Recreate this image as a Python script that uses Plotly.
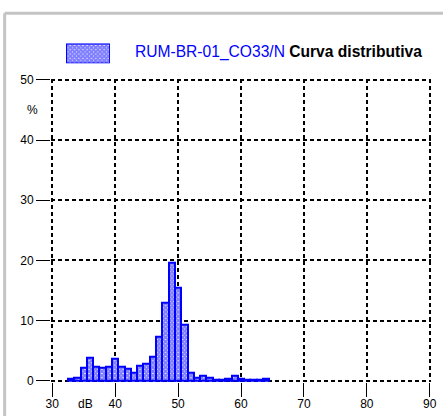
import plotly.graph_objects as go

# Data
db_levels = [33, 34, 35, 36, 37, 38, 39, 40, 41, 42, 43, 44, 45, 46, 47, 48,
             49, 50, 51, 52, 53, 54, 55, 56, 57, 58, 59, 60, 61, 62, 63, 64]
percent = [0.3, 0.55, 2.2, 3.8, 2.4, 2.2, 2.4, 3.6, 2.4, 2.0, 1.3, 2.6, 2.9, 4.0, 7.4, 13.0,
           19.6, 15.4, 9.4, 1.3, 0.5, 0.8, 0.5, 0.15, 0.15, 0.3, 0.8, 0.35, 0.15, 0.15, 0.2, 0.3]
x_ticks = [30, 40, 50, 60, 70, 80, 90]
y_ticks = [0, 10, 20, 30, 40, 50]
series_name = "RUM-BR-01_CO33/N"
chart_title = "Curva distributiva"

BLUE = "#0000ff"
FONT = "Liberation Sans, Arial, sans-serif"
pattern = dict(shape="x", fgcolor=BLUE, bgcolor="white", size=3, solidity=0.9)

fig = go.Figure()
fig.add_trace(go.Bar(
    x=db_levels, y=percent, width=1,
    marker=dict(color=BLUE, line=dict(color=BLUE, width=2), pattern=pattern),
    showlegend=False, hoverinfo="x+y",
))
# legend swatch
fig.add_trace(go.Bar(
    x=[0], y=[1], width=1, xaxis="x2", yaxis="y2",
    marker=dict(color=BLUE, line=dict(color=BLUE, width=2), pattern=pattern),
    showlegend=False, hoverinfo="skip", cliponaxis=False,
))

grid = dict(showgrid=True, gridcolor="black", gridwidth=2, griddash="4px,3px",
            zeroline=False, showline=False, ticks="outside", ticklen=14,
            tickcolor="black", tickwidth=1,
            tickfont=dict(family=FONT, size=12, color="black"))

fig.update_layout(
    width=443, height=416,
    margin=dict(l=51, r=12, t=0, b=34),
    paper_bgcolor="white", plot_bgcolor="white",
    bargap=0,
    xaxis=dict(range=[29.8, 90.2], tickvals=x_ticks, ticklabelstandoff=-3, **grid),
    yaxis=dict(range=[-0.2, 50.2], tickvals=y_ticks, domain=[0, 0.8068], **grid),
    xaxis2=dict(domain=[0.0395, 0.155], range=[-0.5, 0.5], visible=False, anchor="y2"),
    yaxis2=dict(domain=[0.848, 0.9005], range=[0, 1], visible=False, anchor="x2"),
    font=dict(family=FONT),
    annotations=[
        dict(text=f"<span style='color:{BLUE}'>{series_name}</span> <b>{chart_title}</b>",
             xref="paper", yref="paper", x=0.2163, y=0.878, xanchor="left", yanchor="middle",
             showarrow=False, font=dict(family=FONT, size=15.6, color="black")),
        dict(text="%", xref="paper", yref="y", x=-0.05, y=45, xanchor="center", yanchor="middle",
             showarrow=False, font=dict(family=FONT, size=12, color="black")),
        dict(text="dB", xref="x", yref="paper", x=35.3, y=-0.0576, xanchor="center", yanchor="middle",
             showarrow=False, font=dict(family=FONT, size=12, color="black")),
    ],
    shapes=[
        dict(type="line", xref="paper", yref="paper", x0=-0.122, x1=1.05, y0=0.981, y1=0.981,
             line=dict(color="#c4c4c4", width=3)),
        dict(type="line", xref="paper", yref="paper", x0=-0.122, x1=-0.122, y0=0.981, y1=-0.1,
             line=dict(color="#c4c4c4", width=3)),
    ],
)

fig.write_html("out.html", config={"displayModeBar": False},
               post_script="document.body.style.margin='0';")
